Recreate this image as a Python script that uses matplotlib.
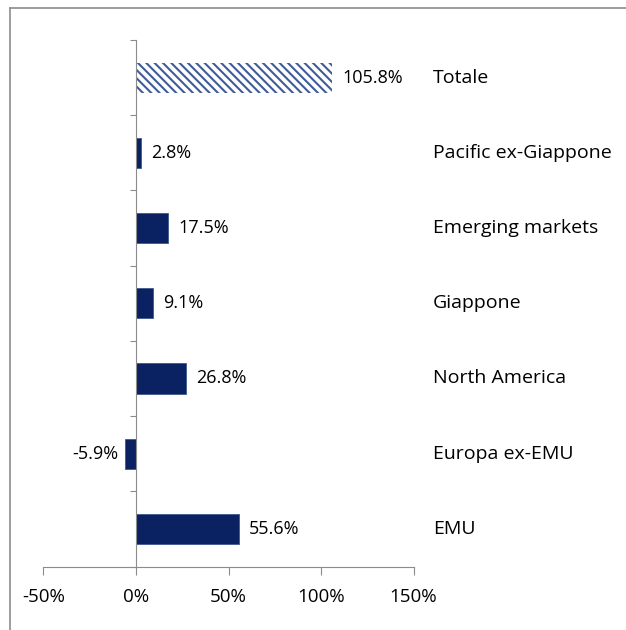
import matplotlib
matplotlib.use("Agg")
import matplotlib.pyplot as plt
from matplotlib.lines import Line2D

categories = ["EMU", "Europa ex-EMU", "North America", "Giappone",
              "Emerging markets", "Pacific ex-Giappone", "Totale"]
values = [55.6, -5.9, 26.8, 9.1, 17.5, 2.8, 105.8]
value_labels = ["55.6%", "-5.9%", "26.8%", "9.1%", "17.5%", "2.8%", "105.8%"]
xticks = [-50, 0, 50, 100, 150]
xtick_labels = ["-50%", "0%", "50%", "100%", "150%"]

plt.rcParams['font.family'] = ['Open Sans', 'DejaVu Sans']
plt.rcParams['hatch.linewidth'] = 1.5

fig = plt.figure(figsize=(6.26, 6.30), dpi=100)
ax = fig.add_axes([43.5/626, 1-566.5/630, (413.5-43.5)/626, (566.5-40)/630])

navy = "#0B2262"
gray = "#8C8C8C"
fs = 13.5

for i, (v, c) in enumerate(zip(values, categories)):
    if c == "Totale":
        ax.barh(i, v, height=0.4, color="white", edgecolor="#3F5C98",
                hatch="\\\\\\\\", linewidth=0)
    else:
        ax.barh(i, v, height=0.4, color=navy, edgecolor="#3D5A8E", linewidth=0.6)
    if v >= 0:
        ax.annotate(value_labels[i], (v, i), xytext=(7.5, 0), textcoords="offset points",
                    ha="left", va="center", fontsize=13, color="black")
    else:
        ax.annotate(value_labels[i], (v, i), xytext=(-5, 0), textcoords="offset points",
                    ha="right", va="center", fontsize=13, color="black")
    ax.text(1.0527, i, c, transform=ax.get_yaxis_transform(), ha="left", va="center",
            fontsize=14, color="black")

ax.set_xlim(-50, 150)
ax.set_ylim(-0.5, len(categories) - 0.5)
ax.set_xticks(xticks)
ax.set_xticklabels(xtick_labels, fontsize=fs)
ax.set_yticks([y - 0.5 for y in range(len(categories) + 1)])
ax.set_yticklabels([])

for s in ["top", "right"]:
    ax.spines[s].set_visible(False)
ax.spines["left"].set_position(("data", 0))
ax.spines["left"].set_color(gray)
ax.spines["bottom"].set_color(gray)
ax.tick_params(axis="x", direction="out", length=5.8, color=gray, pad=10)
ax.tick_params(axis="y", direction="out", length=4.3, color=gray)

fig.add_artist(Line2D([10/626, 10/626], [0, 1-8/630], color=gray, lw=1.2,
                      transform=fig.transFigure))
fig.add_artist(Line2D([10/626, 1], [1-8/630, 1-8/630], color=gray, lw=1.2,
                      transform=fig.transFigure))

fig.savefig("out.png", dpi=100)
